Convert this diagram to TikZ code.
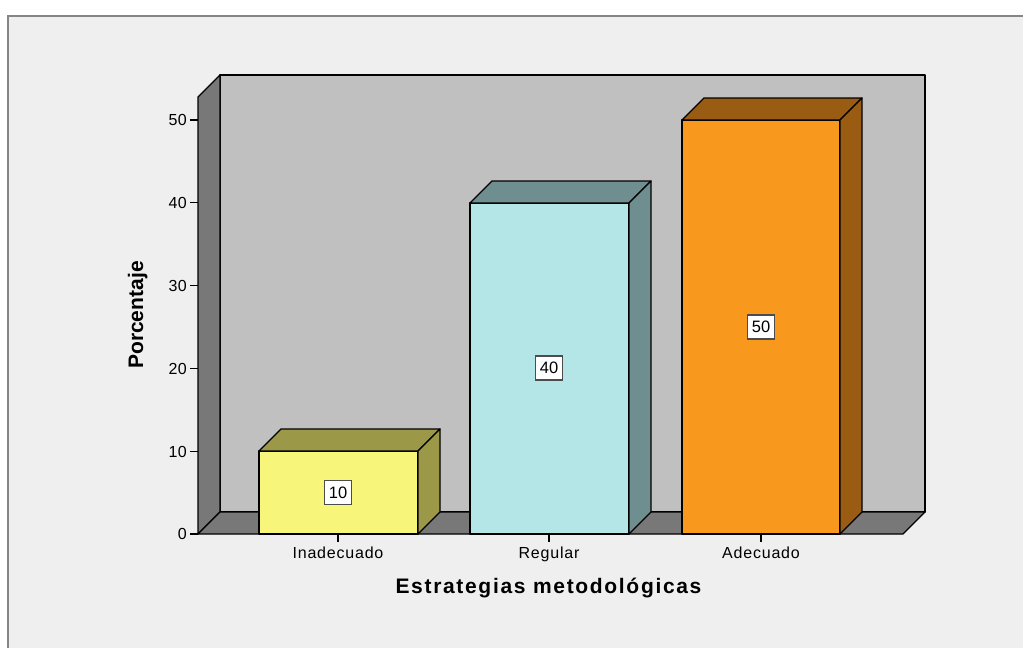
\documentclass[tikz,border=0pt]{standalone}
\usepackage{fontspec}
\setmainfont{Liberation Sans}
\definecolor{bgc}{HTML}{EFEFEF}
\definecolor{framec}{HTML}{858585}
\definecolor{wallc}{HTML}{C0C0C0}
\definecolor{darkc}{HTML}{787878}
\definecolor{yelF}{HTML}{F8F67A}
\definecolor{yelS}{HTML}{9B9847}
\definecolor{cyaF}{HTML}{B4E6E8}
\definecolor{cyaS}{HTML}{6F8E8F}
\definecolor{oraF}{HTML}{F8991E}
\definecolor{oraS}{HTML}{9A5B12}
\tikzset{
  edge3d/.style={draw=black, line width=1.3pt, line join=round},
  ticklab/.style={font=\fontsize{16}{18}\selectfont\addfontfeature{LetterSpace=3}, inner sep=0pt},
  catlab/.style={font=\fontsize{16}{18}\selectfont\addfontfeature{LetterSpace=5}, inner sep=0pt, anchor=base},
  axtitle/.style={font=\fontsize{21}{24}\selectfont\bfseries\addfontfeature{LetterSpace=8}, inner sep=0pt, anchor=base},
  valbox/.style={draw=black!70, line width=1.4pt, fill=white, inner sep=0pt, minimum width=27pt, minimum height=24pt, font=\fontsize{16.5}{18}\selectfont},
  tickline/.style={draw=black, line width=1.3pt}
}
\begin{document}
\begin{tikzpicture}[x=1pt, y=-1pt]
\useasboundingbox (0,0) rectangle (1023,648);
\fill[white] (0,0) rectangle (1023,648);
% frame
\fill[bgc] (8,16) rectangle (1030,660);
\draw[framec, line width=2.2pt] (8,660) -- (8,16) -- (1030,16);
% walls
\coordinate (bwTL) at (220,75);
\coordinate (bwBR) at (925,512);
\filldraw[fill=wallc, edge3d] (bwTL) rectangle (bwBR);
\filldraw[fill=darkc, edge3d] (198,534) -- (198,97) -- (220,75) -- (220,512) -- cycle;
\filldraw[fill=darkc, edge3d] (198,534) -- (220,512) -- (925,512) -- (903,534) -- cycle;
% bars
\newcommand{\barthree}[5]{% x0, x1, top, front, side
  \filldraw[fill=#4, edge3d] (#1,#3) rectangle (#2,534);
  \filldraw[fill=#5, edge3d] (#1,#3) -- (#1+22,#3-22) -- (#2+22,#3-22) -- (#2,#3) -- cycle;
  \filldraw[fill=#5, edge3d] (#2,#3) -- (#2+22,#3-22) -- (#2+22,512) -- (#2,534) -- cycle;
}
\barthree{259}{418}{451}{yelF}{yelS}
\barthree{470}{629}{203}{cyaF}{cyaS}
\barthree{682}{840}{120}{oraF}{oraS}
% y axis ticks
\foreach \v/\yy in {0/534,10/451.2,20/368.4,30/285.6,40/202.8,50/120}{
  \draw[tickline] (190,\yy) -- (198,\yy);
  \node[ticklab, anchor=base east] (t\v) at (187,\yy+5.8) {\v};
}
% x axis ticks and labels
\foreach \xx/\nm/\lab in {338/c1/Inadecuado,549/c2/Regular,761/c3/Adecuado}{
  \draw[tickline] (\xx,534) -- (\xx,542);
  \node[catlab] (\nm) at (\xx,558.5) {\lab};
}
% value labels
\node[valbox] (v1) at (338,492.6) {10};
\node[valbox] (v2) at (549,368) {40};
\node[valbox] (v3) at (761,327) {50};
% axis titles
\node[axtitle] (xt) at (548.5,593) {Estrategias metodológicas};
\node[axtitle, rotate=90, font=\fontsize{21}{24}\selectfont\bfseries] (yt) at (143,315) {Porcentaje};
\end{tikzpicture}
\end{document}
